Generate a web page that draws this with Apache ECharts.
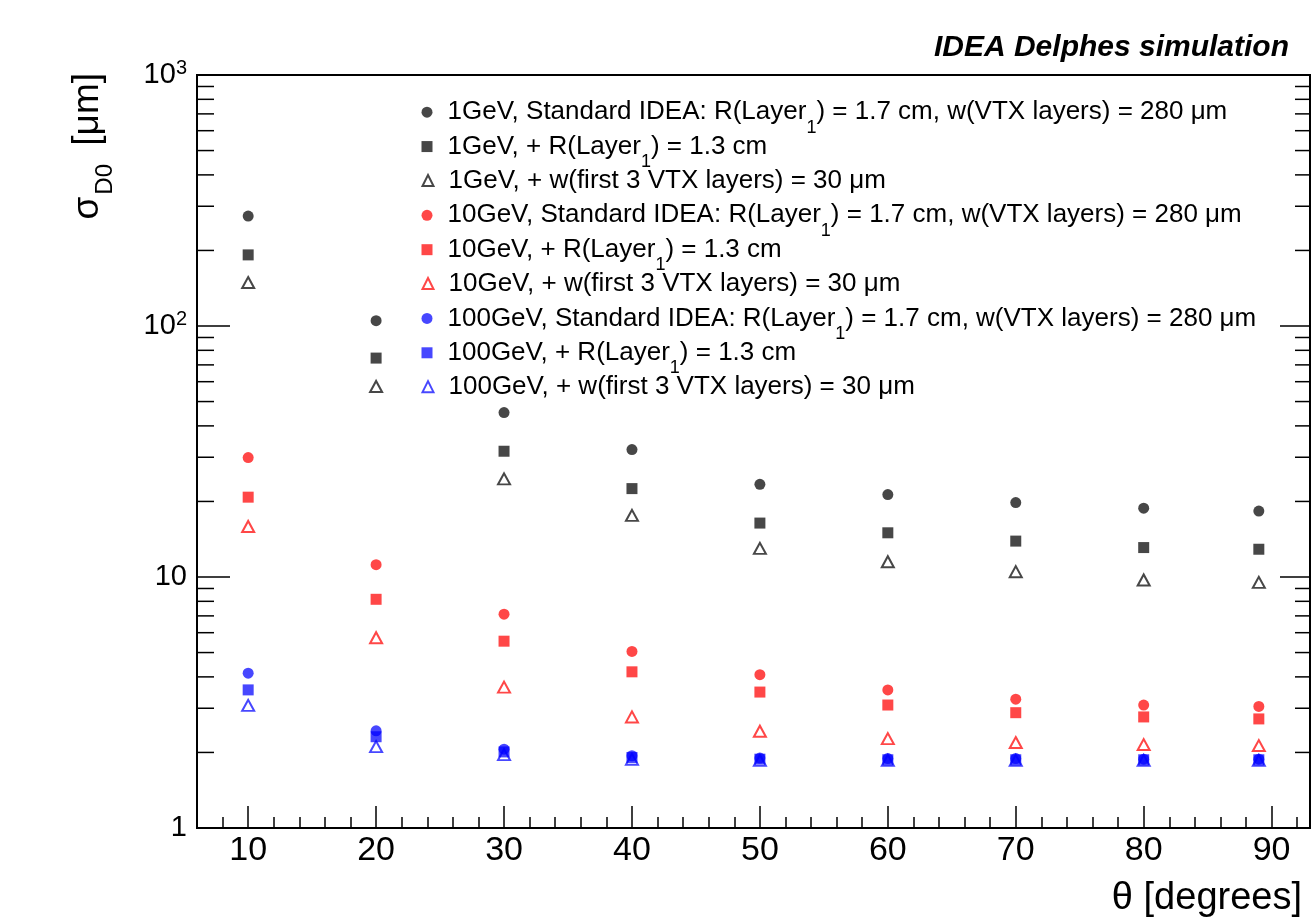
<!DOCTYPE html>
<html>
<head>
<meta charset="utf-8">
<script src="https://cdn.jsdelivr.net/npm/echarts@6/dist/echarts.min.js"></script>
<style>
html,body{margin:0;padding:0;background:#fff;}
#chart{width:1312px;height:918px;}
</style>
</head>
<body>
<div id="chart"></div>
<script>
// ---- data ----
const thetaValues = [10, 20, 30, 40, 50, 60, 70, 80, 89];

const gev1Std  = [274, 105, 45.2, 32.2, 23.4, 21.3, 19.8, 18.8, 18.3];
const gev1R    = [192, 74.5, 31.7, 22.5, 16.4, 15.0, 13.9, 13.1, 12.9];
const gev1W    = [149, 57.4, 24.6, 17.6, 13.0, 11.5, 10.5, 9.73, 9.52];

const gev10Std = [29.9, 11.2, 7.11, 5.05, 4.08, 3.55, 3.26, 3.09, 3.05];
const gev10R   = [20.8, 8.15, 5.55, 4.19, 3.48, 3.09, 2.88, 2.77, 2.72];
const gev10W   = [15.9, 5.73, 3.64, 2.77, 2.43, 2.27, 2.19, 2.15, 2.13];

const gev100Std = [4.14, 2.44, 2.06, 1.94, 1.90, 1.89, 1.89, 1.88, 1.88];
const gev100R   = [3.55, 2.31, 2.01, 1.91, 1.88, 1.87, 1.87, 1.87, 1.87];
const gev100W   = [3.08, 2.11, 1.96, 1.88, 1.86, 1.86, 1.86, 1.86, 1.86];

const seriesNames = [
  '1GeV, Standard IDEA: R(Layer1) = 1.7 cm, w(VTX layers) = 280 μm',
  '1GeV, + R(Layer1) = 1.3 cm',
  '1GeV, + w(first 3 VTX layers) = 30 μm',
  '10GeV, Standard IDEA: R(Layer1) = 1.7 cm, w(VTX layers) = 280 μm',
  '10GeV, + R(Layer1) = 1.3 cm',
  '10GeV, + w(first 3 VTX layers) = 30 μm',
  '100GeV, Standard IDEA: R(Layer1) = 1.7 cm, w(VTX layers) = 280 μm',
  '100GeV, + R(Layer1) = 1.3 cm',
  '100GeV, + w(first 3 VTX layers) = 30 μm'
];
const legendLabels = [
  '1GeV, Standard IDEA: R(Layer{sub|1}) = 1.7 cm, w(VTX layers) = 280 μm',
  '1GeV, + R(Layer{sub|1}) = 1.3 cm',
  '1GeV, + w(first 3 VTX layers) = 30 μm',
  '10GeV, Standard IDEA: R(Layer{sub|1}) = 1.7 cm, w(VTX layers) = 280 μm',
  '10GeV, + R(Layer{sub|1}) = 1.3 cm',
  '10GeV, + w(first 3 VTX layers) = 30 μm',
  '100GeV, Standard IDEA: R(Layer{sub|1}) = 1.7 cm, w(VTX layers) = 280 μm',
  '100GeV, + R(Layer{sub|1}) = 1.3 cm',
  '100GeV, + w(first 3 VTX layers) = 30 μm'
];

const xTickValues = [10, 20, 30, 40, 50, 60, 70, 80, 90];
const xMinorTicks = [8, 12, 14, 16, 18, 22, 24, 26, 28, 32, 34, 36, 38, 42, 44, 46, 48,
  52, 54, 56, 58, 62, 64, 66, 68, 72, 74, 76, 78, 82, 84, 86, 88, 92];
const yTickValues = [1, 10, 100, 1000];
const yTickLabels = ['1', '10', '10{sup|2}', '10{sup|3}'];
const yMinorTicks = [2, 3, 4, 5, 6, 7, 8, 9, 20, 30, 40, 50, 60, 70, 80, 90,
  200, 300, 400, 500, 600, 700, 800, 900];

// ---- chart ----
const FONT = '"Liberation Sans", Arial, Helvetica, sans-serif';
const X_MIN = 6, X_MAX = 93, Y_MIN = 1, Y_MAX = 1000;
const OP = 0.72;
const colors = ['#000000', '#ff0000', '#0000ff'];
const groups = [
  [gev1Std, gev1R, gev1W],
  [gev10Std, gev10R, gev10W],
  [gev100Std, gev100R, gev100W]
];

const scatterSeries = [];
groups.forEach((g, gi) => {
  g.forEach((vals, k) => {
    const idx = gi * 3 + k;
    const c = colors[gi];
    scatterSeries.push({
      type: 'scatter',
      name: seriesNames[idx],
      xAxisIndex: 0,
      yAxisIndex: 0,
      data: thetaValues.map((t, i) => [t, vals[i]]),
      symbol: k === 0 ? 'circle' : (k === 1 ? 'rect' : 'triangle'),
      symbolSize: k === 0 ? 11 : (k === 1 ? 11 : [12, 11]),
      itemStyle: k === 2
        ? { color: 'rgba(255,255,255,0)', borderColor: c, borderWidth: 2, opacity: OP }
        : { color: c, opacity: OP },
      emphasis: { disabled: true },
      z: 3
    });
  });
});

function minorTickSeries(side, len) {
  return {
    type: 'custom',
    xAxisIndex: 0,
    yAxisIndex: 0,
    silent: true,
    z: 5,
    data: yMinorTicks.map(v => [v]),
    encode: { y: 0 },
    renderItem: function (params, api) {
      const cs = params.coordSys;
      const y = api.coord([20, api.value(0)])[1];
      const x0 = side === 'left' ? cs.x : cs.x + cs.width;
      const x1 = side === 'left' ? x0 + len : x0 - len;
      return {
        type: 'line',
        shape: { x1: x0, y1: y, x2: x1, y2: y },
        style: { stroke: '#000', lineWidth: 1.5 }
      };
    }
  };
}

function yLabel(v) {
  let best = 0, bd = Infinity;
  yTickValues.forEach((t, i) => {
    const d = Math.abs(Math.log10(v) - Math.log10(t));
    if (d < bd) { bd = d; best = i; }
  });
  return yTickLabels[best];
}

// one legend box per row, so every row sits at the same pitch
const LEG_FIRST = 111.7, LEG_PITCH = 34.37;
const LEG_OFFSET_SUB = 24.0, LEG_OFFSET_PLAIN = 13.0;
const legends = seriesNames.map((nm, i) => ({
  orient: 'vertical',
  left: 421.5,
  top: LEG_FIRST + i * LEG_PITCH - (legendLabels[i].indexOf('{sub|') >= 0 ? LEG_OFFSET_SUB : LEG_OFFSET_PLAIN),
  padding: 0,
  itemWidth: 11,
  itemHeight: 11,
  selectedMode: false,
  data: [nm],
  formatter: function (name) { return legendLabels[seriesNames.indexOf(name)]; },
  textStyle: {
    fontFamily: FONT, fontSize: 26, color: '#000', lineHeight: 26,
    padding: [0, 0, 0, 10],
    rich: {
      sub: { fontFamily: FONT, fontSize: 18, lineHeight: 26, padding: [31, 0, 0, 0], color: '#000' }
    }
  }
}));

const chart = echarts.init(document.getElementById('chart'), null, { renderer: 'canvas' });
chart.setOption({
  animation: false,
  backgroundColor: '#ffffff',
  textStyle: { fontFamily: FONT },
  title: {
    text: 'IDEA Delphes simulation',
    right: 23,
    top: 33,
    padding: 0,
    textStyle: { fontSize: 30, fontWeight: 'bold', fontStyle: 'italic', color: '#000', fontFamily: FONT }
  },
  grid: {
    left: 197, right: 2, top: 75, bottom: 89,
    show: true, borderColor: '#000', borderWidth: 2, backgroundColor: 'rgba(0,0,0,0)',
    containLabel: false
  },
  legend: legends,
  xAxis: [
    {
      type: 'value',
      min: X_MIN, max: X_MAX,
      position: 'bottom',
      name: 'θ [degrees]',
      nameLocation: 'end',
      nameGap: -8,
      nameTextStyle: {
        fontFamily: FONT, fontSize: 38, color: '#000',
        align: 'right', verticalAlign: 'top', padding: [52, 0, 0, 0]
      },
      axisLine: { show: true, onZero: false, lineStyle: { color: '#000', width: 2 } },
      axisTick: { show: true, inside: true, length: 22, customValues: xTickValues, lineStyle: { color: '#000', width: 1.5 } },
      axisLabel: { show: true, customValues: xTickValues, fontSize: 34, color: '#000', margin: 6, fontFamily: FONT },
      splitLine: { show: false },
      minorTick: { show: false }
    },
    {
      type: 'value',
      min: X_MIN, max: X_MAX,
      position: 'bottom',
      axisLine: { show: false },
      axisTick: { show: true, inside: true, length: 11, customValues: xMinorTicks, lineStyle: { color: '#000', width: 1.5 } },
      axisLabel: { show: false },
      splitLine: { show: false }
    }
  ],
  yAxis: [
    {
      type: 'log',
      logBase: 10,
      min: Y_MIN, max: Y_MAX,
      position: 'left',
      axisLine: { show: true, onZero: false, lineStyle: { color: '#000', width: 2 } },
      axisTick: { show: true, inside: true, length: 33, lineStyle: { color: '#000', width: 1.5 } },
      axisLabel: {
        show: true, margin: 10, color: '#000', fontSize: 29, fontFamily: FONT,
        formatter: yLabel,
        rich: { sup: { fontSize: 20, fontFamily: FONT, color: '#000', padding: [0, 0, 14, 0], lineHeight: 29 } }
      },
      splitLine: { show: false },
      minorTick: { show: false }
    },
    {
      type: 'log',
      logBase: 10,
      min: Y_MIN, max: Y_MAX,
      position: 'right',
      axisLine: { show: true, onZero: false, lineStyle: { color: '#000', width: 2 } },
      axisTick: { show: true, inside: true, length: 30, lineStyle: { color: '#000', width: 1.5 } },
      axisLabel: { show: false },
      splitLine: { show: false }
    }
  ],
  graphic: [
    {
      type: 'text',
      x: 88, y: 73,
      rotation: Math.PI / 2,
      silent: true,
      style: {
        text: 'σ{sub|D0} [μm]',
        align: 'right',
        verticalAlign: 'middle',
        fontFamily: FONT, fontSize: 37, fill: '#000', lineHeight: 37,
        rich: { sub: { fontFamily: FONT, fontSize: 24, fill: '#000', lineHeight: 37, padding: [34, 8, 0, 2] } }
      }
    }
  ],
  series: scatterSeries.concat([minorTickSeries('left', 17), minorTickSeries('right', 15)])
});
</script>
</body>
</html>
